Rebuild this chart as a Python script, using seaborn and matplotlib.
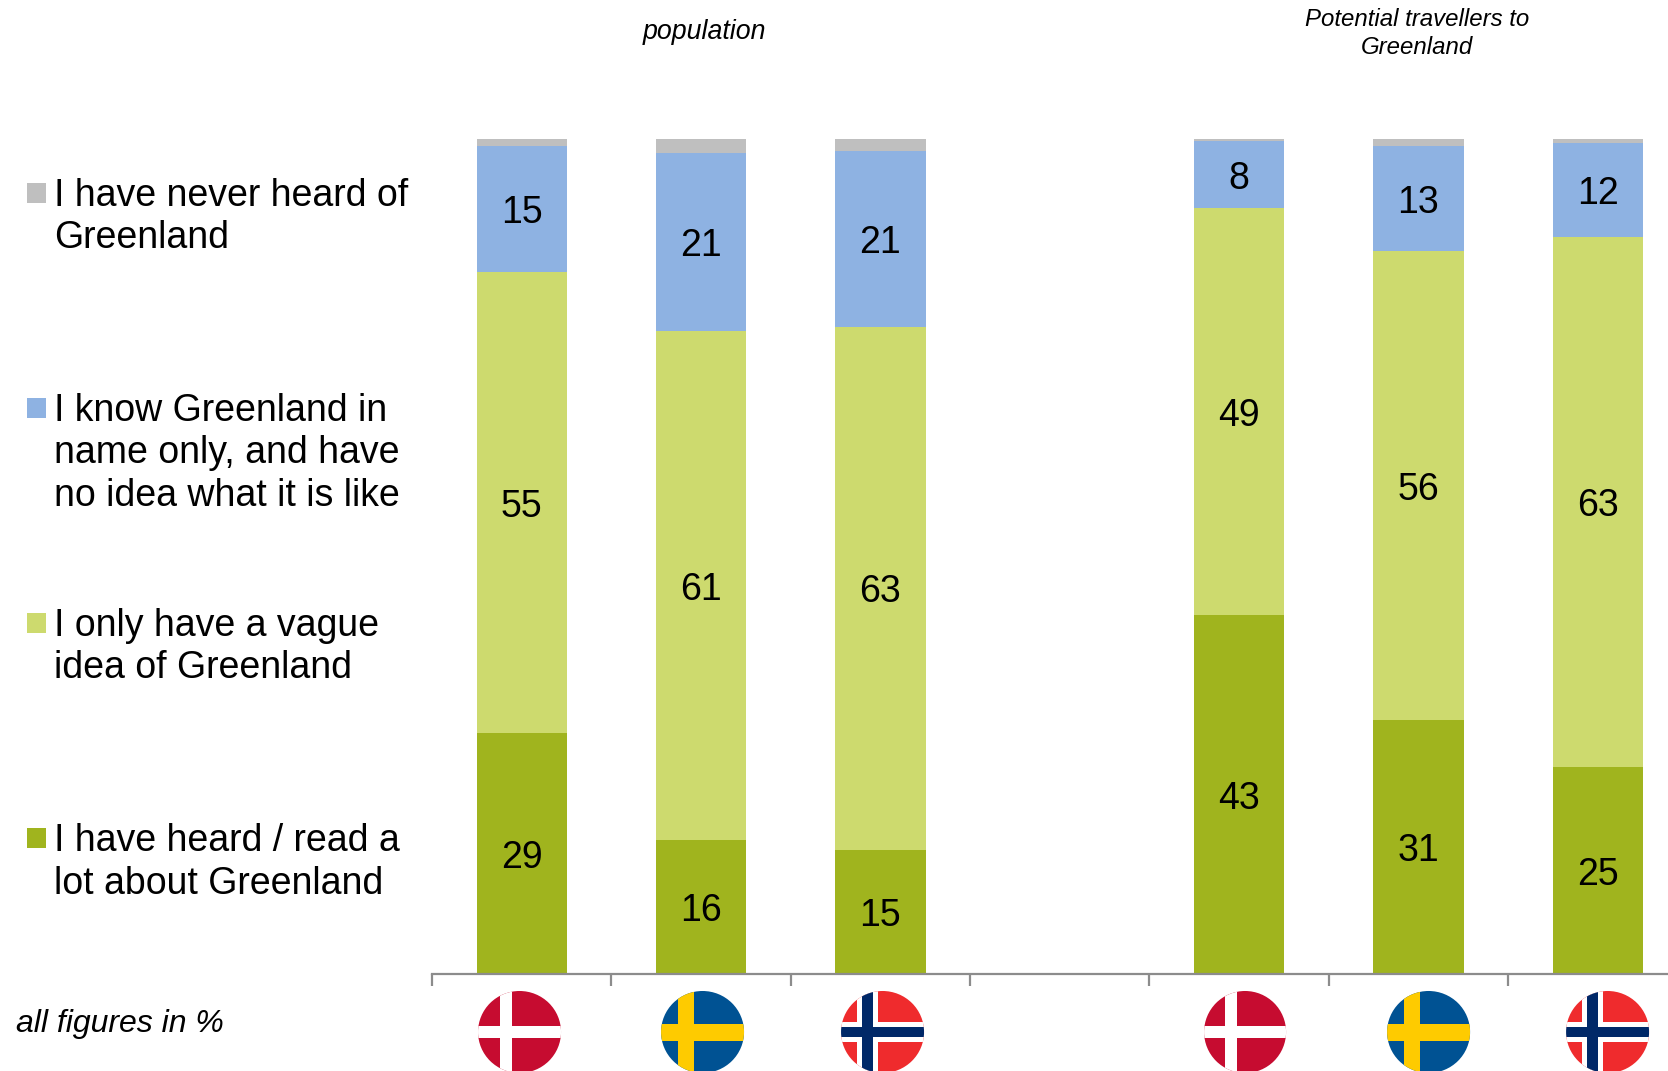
import numpy as np
import pandas as pd
import matplotlib
matplotlib.use("Agg")
import matplotlib.pyplot as plt
from matplotlib.patches import Ellipse, Rectangle
import seaborn as sns

countries = ["DK", "SE", "NO", "gap", "DK ", "SE ", "NO "]
bar_names = ["DK", "SE", "NO", "DK ", "SE ", "NO "]

heard_lot = [28.8, 16.0, 14.9, 43.0, 30.45, 24.8]
vague = [55.3, 61.0, 62.6, 48.7, 56.1, 63.5]
name_only = [15.0, 21.3, 21.1, 8.0, 12.65, 11.2]
never = [0.9, 1.7, 1.4, 0.3, 0.8, 0.5]

heard_lot_labels = ["29", "16", "15", "43", "31", "25"]
vague_labels = ["55", "61", "63", "49", "56", "63"]
name_only_labels = ["15", "21", "21", "8", "13", "12"]

series_colors = ["#A0B41E", "#CDDA6E", "#8EB2E2", "#BFBFBF"]
legend_labels = [
    "I have never heard of\nGreenland",
    "I know Greenland in\nname only, and have\nno idea what it is like",
    "I only have a vague\nidea of Greenland",
    "I have heard / read a\nlot about Greenland",
]
legend_colors = ["#BFBFBF", "#8EB2E2", "#CDDA6E", "#A0B41E"]

sns.set_theme(style="white")
plt.rcParams["font.family"] = ["Liberation Sans", "DejaVu Sans"]

W, H = 1668, 1071
fig = plt.figure(figsize=((W + 0.1) / 100, (H + 0.1) / 100), dpi=100)
# axes runs past the right edge of the picture, like the original slide crop
ax = fig.add_axes([432 / W, 1 - 974 / H, (1687.3 - 432) / W, (974 - 139) / H])

bottom = np.zeros(len(bar_names))
all_labels = [heard_lot_labels, vague_labels, name_only_labels]
for i, vals in enumerate([heard_lot, vague, name_only, never]):
    df = pd.DataFrame({"country": bar_names, "value": vals})
    sns.barplot(data=df, x="country", y="value", order=countries, bottom=bottom,
                color=series_colors[i], saturation=1, width=0.504, gap=0, ax=ax,
                errorbar=None, linewidth=0)
    if i < 3:
        ax.bar_label(ax.containers[-1], labels=all_labels[i], label_type="center", fontsize=27,
                     color="black", padding=-3)
    bottom += np.array(vals)

ax.set_xlim(-0.5, 6.5)
ax.set_ylim(0, 100)
ax.set_xlabel("")
ax.set_ylabel("")
ax.set_yticks([])
ax.set_xticks(np.arange(-0.5, 7.0, 1.0))
ax.set_xticklabels([])
sns.despine(ax=ax, left=True)
ax.spines["bottom"].set_color("#8C8C8C")
ax.spines["bottom"].set_linewidth(1.6)
ax.tick_params(axis="x", bottom=True, length=8.5, width=1.6, color="#8C8C8C")

# overlay in pixel coords for legend, headers and flags
ov = fig.add_axes([0, 0, 1, 1])
ov.set_xlim(0, W)
ov.set_ylim(H, 0)
ov.axis("off")
ov.patch.set_alpha(0)

for k, (lab, col) in enumerate(zip(legend_labels, legend_colors)):
    y = 193 + k * 215
    ov.add_patch(Rectangle((27, y - 10), 19, 20, color=col, lw=0))
    ov.text(54, y - 15, lab, fontsize=27, va="top", ha="left", color="black", linespacing=1.23)

ov.text(704, 32, "population", fontsize=19.3, style="italic", ha="center", va="center", color="black")
ov.text(1417, 33.5, "Potential travellers to\nGreenland", fontsize=17.3, style="italic", ha="center",
        va="center", color="black", linespacing=1.3)
ov.text(16, 1024, "all figures in %", fontsize=23, style="italic", ha="left", va="center", color="black")


def flag(cx, cy, rx, ry, field, parts):
    clip = Ellipse((cx, cy), 2 * rx, 2 * ry, color=field, lw=0)
    ov.add_patch(clip)
    for (x0, x1, y0, y1, c) in parts:
        r = Rectangle((cx + x0 * rx, cy + y0 * ry), (x1 - x0) * rx, (y1 - y0) * ry, color=c, lw=0)
        ov.add_patch(r)
        r.set_clip_path(clip)


def denmark(cx, rx):
    flag(cx, 1032, rx, 41, "#C60C30", [(-0.48, -0.19, -1, 1, "white"), (-1, 1, -0.15, 0.15, "white")])


def sweden(cx, rx):
    flag(cx, 1032, rx, 41, "#005293", [(-0.6, -0.2, -1, 1, "#FECB00"), (-1, 1, -0.2, 0.22, "#FECB00")])


def norway(cx, rx):
    flag(cx, 1032, rx, 41, "#EF2B2D", [
        (-0.61, -0.115, -1, 1, "white"), (-1, 1, -0.25, 0.25, "white"),
        (-0.486, -0.237, -1, 1, "#002868"), (-1, 1, -0.127, 0.127, "#002868")])


denmark(519.5, 41.5)
sweden(702.5, 41.5)
norway(882.5, 41.5)
denmark(1245, 41)
sweden(1428.5, 41.5)
norway(1607.5, 41.5)

fig.savefig("out.png", dpi=100, facecolor="white")
